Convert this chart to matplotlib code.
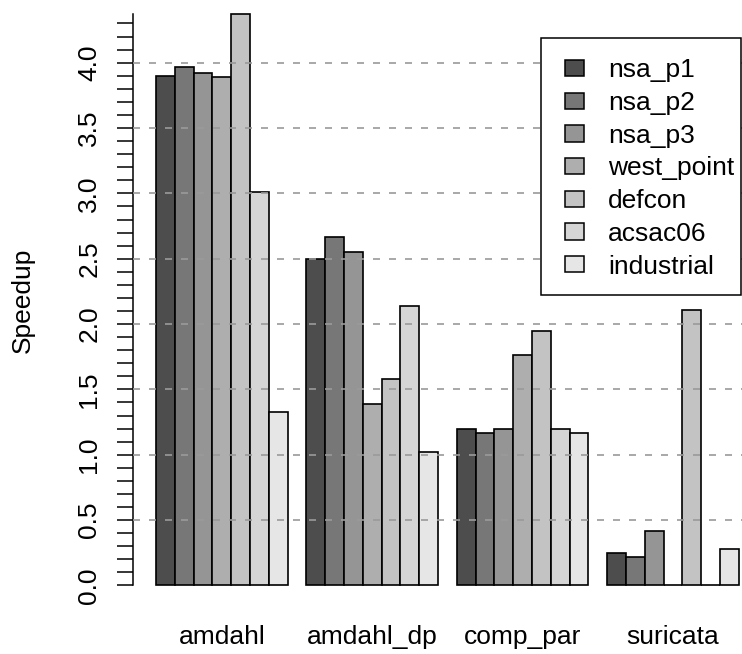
import numpy as np
import matplotlib
matplotlib.use('Agg')
import matplotlib.pyplot as plt
from matplotlib.patches import Rectangle, Patch

plt.rcParams['font.family'] = ['Liberation Sans', 'DejaVu Sans']

# data
benchmarks = ['amdahl', 'amdahl_dp', 'comp_par', 'suricata']
datasets = ['nsa_p1', 'nsa_p2', 'nsa_p3', 'west_point', 'defcon', 'acsac06', 'industrial']
amdahl = [3.90, 3.97, 3.92, 3.89, 4.37, 3.01, 1.33]
amdahl_dp = [2.50, 2.67, 2.55, 1.39, 1.58, 2.14, 1.02]
comp_par = [1.20, 1.17, 1.20, 1.76, 1.95, 1.20, 1.17]
suricata = [0.25, 0.22, 0.42, 0.0, 2.11, 0.0, 0.28]
speedups = [amdahl, amdahl_dp, comp_par, suricata]

# R gray.colors(7)
colors = ['#4D4D4D', '#777777', '#959595', '#AEAEAE', '#C3C3C3', '#D5D5D5', '#E6E6E6']

W, H = 742, 654
fig = plt.figure(figsize=(W / 100, H / 100), dpi=100)

# plot region in pixels (it runs a bit past the right and top edges)
left_px, right_px = 132.7, 762.0
bottom_px, top_px = 608.3, -8.5
ax = fig.add_axes([left_px / W, 1 - bottom_px / H,
                   (right_px - left_px) / W, (bottom_px - top_px) / H])

n = len(datasets)
ymax = max(max(s) for s in speedups)
for g, vals in enumerate(speedups):
    x = 1 + g * (n + 1) + np.arange(n)
    ax.bar(x, vals, width=1.0, align='edge', color=colors,
           edgecolor='black', linewidth=1.2, zorder=2)

total = len(benchmarks) * (n + 1) - 1
ax.set_xlim(1 - 0.04 * total, 1 + total + 0.04 * total)
ax.set_ylim(-0.04 * ymax, ymax * 1.04)

# dashed reference lines over the bars
for h in np.arange(0.5, 4.01, 0.5):
    ax.axhline(h, color='#9a9a9a', linewidth=1.2, dashes=(4.2, 5.4), zorder=3)

for s in ['top', 'right', 'bottom']:
    ax.spines[s].set_visible(False)
ax.spines['left'].set_bounds(0, ymax)
ax.spines['left'].set_linewidth(1.1)

yt = np.round(np.arange(0, 4.31, 0.1), 1)
ax.set_yticks(yt)
ax.set_yticklabels([f'{v:.1f}' if abs(v * 2 - round(v * 2)) < 1e-6 else '' for v in yt],
                   rotation=90, va='center', fontsize=19)
ax.tick_params(axis='y', length=11.5, width=1.1, pad=11)

centers = [1 + g * (n + 1) + n / 2 for g in range(len(benchmarks))]
ax.set_xticks(centers)
ax.set_xticklabels(benchmarks, fontsize=19)
ax.tick_params(axis='x', length=0, pad=12)

fig.text(22.5 / W, 1 - 300 / H, 'Speedup', rotation=90, ha='center', va='center', fontsize=19)

# legend with a separate white frame
lx0, ly0, lx1, ly1 = 540.7, 38.3, 740.5, 295.3
fig.patches.append(Rectangle((lx0 / W, 1 - ly1 / H), (lx1 - lx0) / W, (ly1 - ly0) / H,
                             transform=fig.transFigure, facecolor='white',
                             edgecolor='black', linewidth=1.1, zorder=4))
handles = [Patch(facecolor=c, edgecolor='black', linewidth=1.1) for c in colors]
fig.legend(handles, datasets, loc='upper left', frameon=False, fontsize=19,
           bbox_to_anchor=((lx0 + 24.3) / W, 1 - (ly0 + 20) / H),
           bbox_transform=fig.transFigure, borderaxespad=0, borderpad=0,
           handlelength=0.72, handleheight=0.57, handletextpad=0.9,
           labelspacing=0.33)

fig.savefig('out.png', dpi=100)
